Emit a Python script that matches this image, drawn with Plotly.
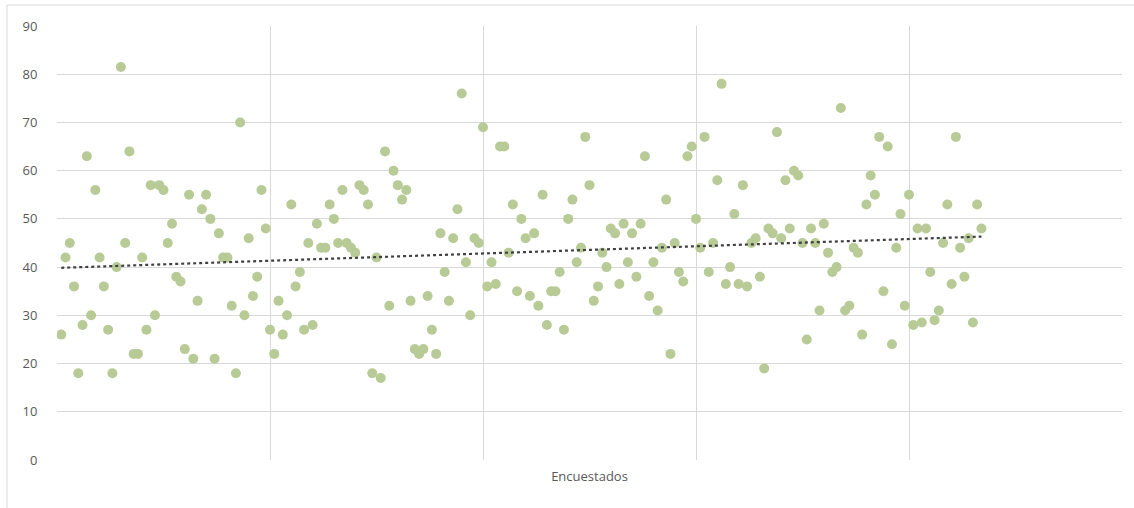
import numpy as np
import plotly.graph_objects as go

# Respondent number (1..217) and the value recorded for each respondent
respondent = list(range(1, 218))
values = [
    26, 42, 45, 36, 18, 28, 63, 30, 56, 42,
    36, 27, 18, 40, 81.5, 45, 64, 22, 22, 42,
    27, 57, 30, 57, 56, 45, 49, 38, 37, 23,
    55, 21, 33, 52, 55, 50, 21, 47, 42, 42,
    32, 18, 70, 30, 46, 34, 38, 56, 48, 27,
    22, 33, 26, 30, 53, 36, 39, 27, 45, 28,
    49, 44, 44, 53, 50, 45, 56, 45, 44, 43,
    57, 56, 53, 18, 42, 17, 64, 32, 60, 57,
    54, 56, 33, 23, 22, 23, 34, 27, 22, 47,
    39, 33, 46, 52, 76, 41, 30, 46, 45, 69,
    36, 41, 36.5, 65, 65, 43, 53, 35, 50, 46,
    34, 47, 32, 55, 28, 35, 35, 39, 27, 50,
    54, 41, 44, 67, 57, 33, 36, 43, 40, 48,
    47, 36.5, 49, 41, 47, 38, 49, 63, 34, 41,
    31, 44, 54, 22, 45, 39, 37, 63, 65, 50,
    44, 67, 39, 45, 58, 78, 36.5, 40, 51, 36.5,
    57, 36, 45, 46, 38, 19, 48, 47, 68, 46,
    58, 48, 60, 59, 45, 25, 48, 45, 31, 49,
    43, 39, 40, 73, 31, 32, 44, 43, 26, 53,
    59, 55, 67, 35, 65, 24, 44, 51, 32, 55,
    28, 48, 28.5, 48, 39, 29, 31, 45, 53, 36.5,
    67, 44, 38, 46, 28.5, 53, 48,
]

y_ticks = [0, 10, 20, 30, 40, 50, 60, 70, 80, 90]
x_title = "Encuestados"

# Linear trend line fitted to the series
slope, intercept = np.polyfit(respondent, values, 1)
trend_x = [respondent[0], respondent[-1]]
trend_y = [intercept + slope * v for v in trend_x]

fig = go.Figure()
fig.add_trace(go.Scatter(
    x=respondent, y=values, mode="markers",
    marker=dict(size=10, color="#b8cb97", line=dict(width=0)),
    hoverinfo="x+y", showlegend=False,
))
fig.add_trace(go.Scatter(
    x=trend_x, y=trend_y, mode="lines",
    line=dict(color="#404040", width=2.2, dash="dot"),
    hoverinfo="skip", showlegend=False,
))

grid = "#d9d9d9"
font_color = "#595959"

fig.update_layout(
    width=1134, height=508,
    margin=dict(l=57, r=12, t=26, b=48),
    paper_bgcolor="white", plot_bgcolor="white",
    font=dict(family="Open Sans, Segoe UI, sans-serif", size=12, color=font_color),
    xaxis=dict(
        range=[0, 250], dtick=50, tick0=0,
        showgrid=True, gridcolor=grid, gridwidth=1,
        zeroline=False, showline=False,
        showticklabels=False, ticks="",
        title=dict(text=x_title, font=dict(size=13, color=font_color), standoff=11),
        fixedrange=True,
    ),
    yaxis=dict(
        range=[0, 90], tickvals=y_ticks, ticktext=[str(t) for t in y_ticks],
        showgrid=True, gridcolor=grid, gridwidth=1,
        zeroline=False, showline=False,
        ticks="outside", ticklen=16, tickcolor="rgba(0,0,0,0)",
        tickfont=dict(size=13, color=font_color),
        fixedrange=True,
    ),
    shapes=[
        # chart frame (left and top edges)
        dict(type="line", xref="paper", yref="paper",
             x0=(7 - 57) / 1065, x1=(1140 - 57) / 1065,
             y0=(460 - 5) / 434, y1=(460 - 5) / 434,
             line=dict(color=grid, width=1)),
        dict(type="line", xref="paper", yref="paper",
             x0=(7 - 57) / 1065, x1=(7 - 57) / 1065,
             y0=(460 - 5) / 434, y1=(460 - 515) / 434,
             line=dict(color=grid, width=1)),
    ],
)

fig.write_html("out.html")
